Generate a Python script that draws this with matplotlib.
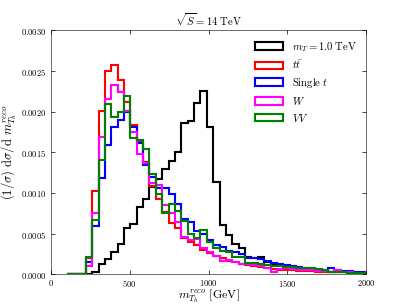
import numpy as np
import matplotlib
matplotlib.use('Agg')
import matplotlib.pyplot as plt
from matplotlib.ticker import FuncFormatter, MultipleLocator

plt.rcParams['mathtext.fontset'] = 'cm'
plt.rcParams['font.family'] = 'serif'
plt.rcParams['font.serif'] = ['DejaVu Serif']

# bin edges [GeV], 50 bins starting at 100 GeV
edges = np.linspace(100, 2120, 51)

# normalised distributions (1/sigma dsigma/dm), in units of 1e-4
sig_1tev = [0, 0, 0, 0, 0.3, 1.3, 1.9, 2.8, 3.8, 5.7,
            6.2, 8.3, 9.3, 10.7, 11.7, 12.9, 13.9, 15.0, 18.6, 18.8,
            21.1, 22.5, 18.1, 11.4, 6.1, 4.9, 3.8, 3.3, 2.2, 2.0,
            2.1, 1.5, 1.3, 1.2, 1.0, 0.9, 0.8, 0.7, 0.55, 0.5,
            0.4, 0.35, 0.3, 0.25, 0.2, 0.2, 0.15, 0.15, 0.1, 0.1]
ttbar = [0, 0, 0, 2.0, 10.3, 20.1, 25.0, 25.7, 23.9, 21.2,
         18.4, 16.3, 13.8, 10.9, 9.3, 7.7, 6.3, 5.7, 4.5, 4.0,
         3.6, 3.0, 2.6, 2.3, 2.0, 1.7, 1.5, 1.3, 1.2, 1.0,
         0.9, 0.8, 0.7, 0.6, 0.55, 0.5, 0.45, 0.4, 0.4, 0.35,
         0.3, 0.3, 0.25, 0.25, 0.2, 0.2, 0.2, 0.15, 0.15, 0.1]
single_t = [0, 0, 0, 1.5, 5.9, 11.8, 15.9, 18.1, 19.0, 20.0,
            18.1, 16.2, 13.4, 12.0, 10.6, 10.6, 9.9, 8.6, 6.8, 6.4,
            5.4, 5.0, 4.2, 3.6, 3.4, 2.9, 2.7, 2.5, 2.0, 2.0,
            1.9, 1.6, 1.4, 1.3, 1.2, 1.0, 0.9, 0.8, 0.7, 0.6,
            0.55, 0.75, 0.5, 0.45, 0.4, 0.35, 0.3, 0.35, 0.3, 0.3]
wjets = [0, 0, 0, 1.0, 7.5, 16.9, 21.6, 23.3, 22.4, 20.1,
         17.5, 14.8, 13.7, 11.2, 11.0, 8.5, 7.6, 6.4, 4.6, 4.2,
         4.3, 3.2, 2.8, 2.3, 1.7, 1.8, 1.5, 1.3, 1.3, 1.2,
         1.0, 0.8, 0.3, 0.7, 0.8, 0.7, 0.6, 0.55, 0.5, 0.45,
         0.4, 0.35, 0.6, 0.3, 0.25, 0.2, 0.2, 0.3, 0.2, 0.2]
diboson = [0, 0, 0, 2.1, 6.7, 14.1, 20.9, 19.4, 20.0, 21.9,
           16.8, 16.5, 15.4, 12.4, 9.9, 7.5, 8.7, 7.8, 6.6, 5.0,
           4.5, 5.5, 4.0, 3.2, 2.9, 2.8, 2.2, 2.1, 1.4, 1.4,
           1.3, 1.2, 1.1, 1.0, 0.9, 0.9, 0.8, 0.8, 0.75, 0.7,
           0.6, 0.3, 0.25, 0.25, 0.2, 0.2, 0.15, 0.15, 0.1, 0.1]

samples = [sig_1tev, ttbar, single_t, wjets, diboson]
labels = [r'$m_T = 1.0\ \mathrm{TeV}$', r'$t\bar{t}$', r'$\mathrm{Single}\ t$',
          r'$W$', r'$VV$']
colors = ['#000000', '#ff0000', '#0000ff', '#ff00ff', '#008000']

fig = plt.figure(figsize=(8, 6), dpi=50.875)
ax = fig.add_axes([0.125, 0.1, 0.775, 0.8])

centers = 0.5 * (edges[:-1] + edges[1:])
for vals, lab, col in zip(samples, labels, colors):
    ax.hist(centers, bins=edges, weights=np.array(vals) * 1e-4,
            histtype='step', color=col, lw=3, label=lab)

ax.set_xlim(0, 2000)
ax.set_ylim(0, 0.003)
ax.xaxis.set_major_locator(MultipleLocator(500))
ax.yaxis.set_major_locator(MultipleLocator(0.0005))
ax.xaxis.set_major_formatter(FuncFormatter(lambda v, p: r'$%d$' % v))
ax.yaxis.set_major_formatter(FuncFormatter(lambda v, p: r'$%.4f$' % v))
ax.tick_params(direction='in', top=True, right=True, labelsize=12,
               length=5, width=1, pad=6)
ax.tick_params(axis='x', pad=5)

ax.set_title(r'$\sqrt{S} = 14\ \mathrm{TeV}$', fontsize=15)
ax.set_xlabel(r'$m_{T_h}^{reco}\ [\mathrm{GeV}]$', fontsize=17, labelpad=-3)
ax.set_ylabel(r'$(1/\sigma)\ \mathrm{d}\sigma/\mathrm{d}\ m_{T_h}^{reco}$', fontsize=18)

ax.legend(loc='upper right', frameon=False, fontsize=15, handlelength=2.7,
          labelspacing=0.45)

fig.savefig('out.png', dpi=50.875)
